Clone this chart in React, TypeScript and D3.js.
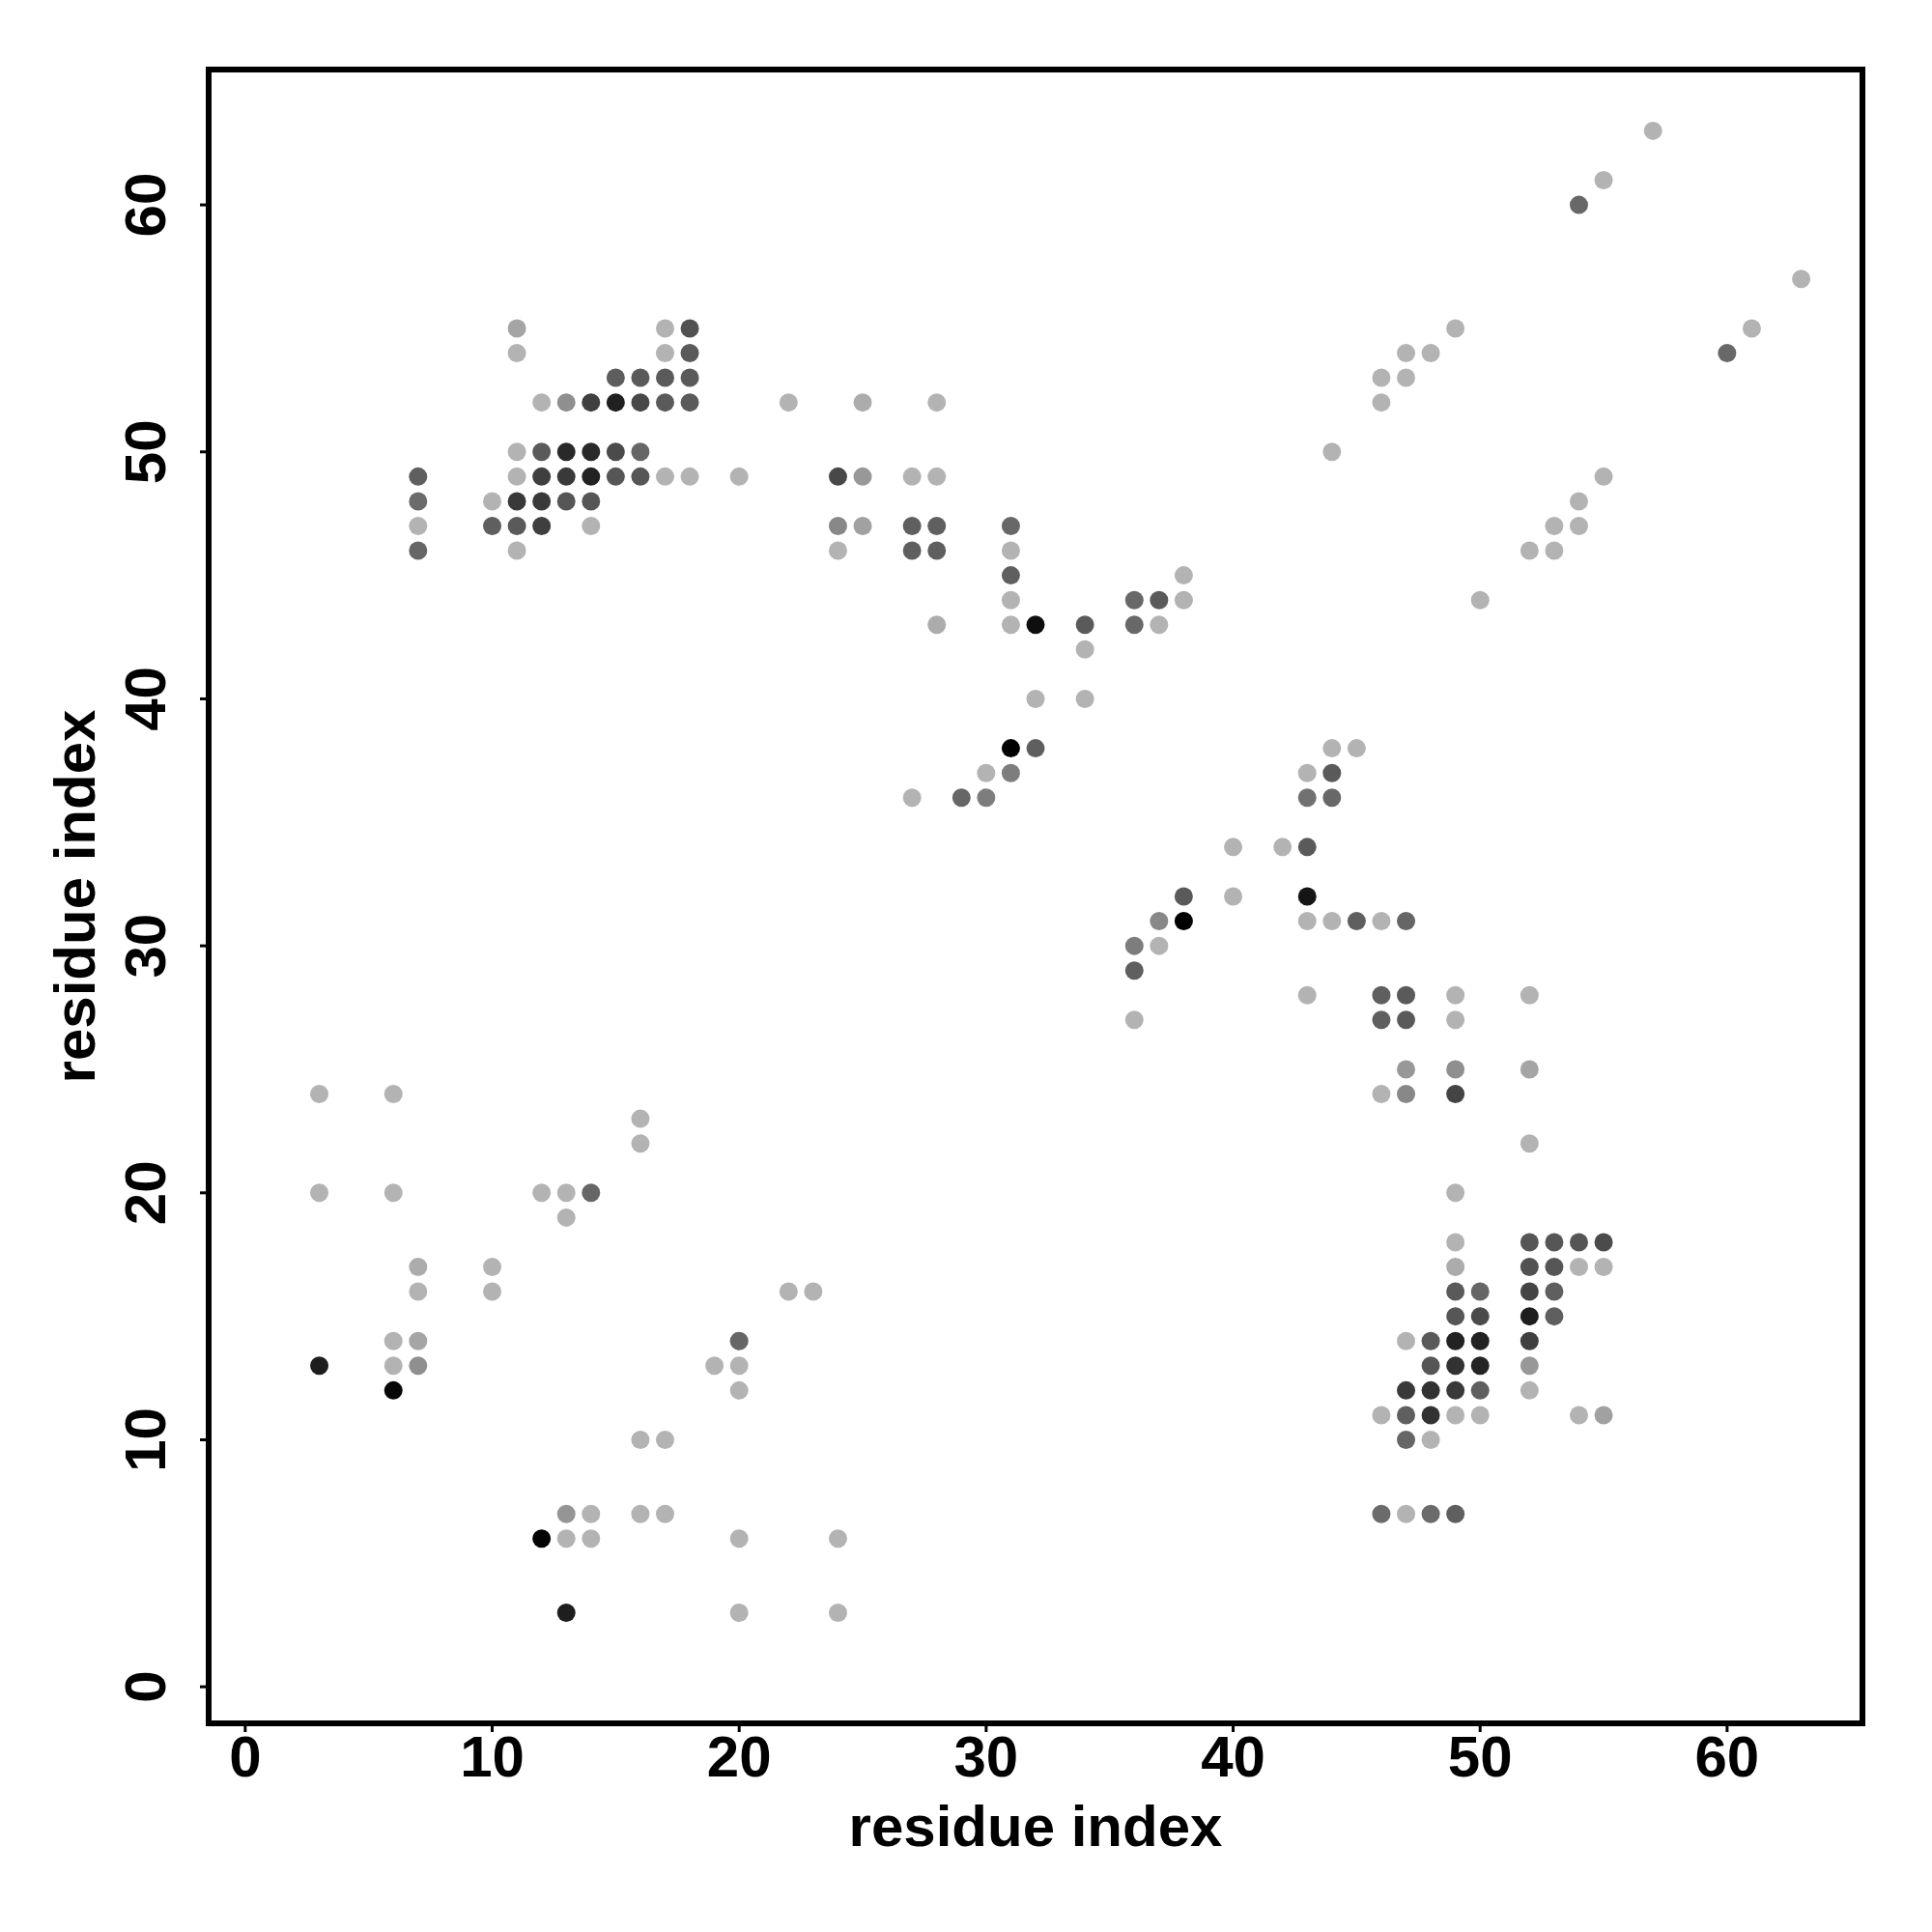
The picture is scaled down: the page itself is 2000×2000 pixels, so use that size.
import React from "react";
import * as d3 from "d3";

// Contact map: residue i (x), residue j (y), contact score (0 = weakest/light grey, 1 = strongest/black)
const residueI: number[] = [
  57, 55, 54, 63,
  11, 17, 18, 49, 61,
  11, 17, 18, 47, 48, 60,
  15, 16, 17, 18, 46, 47,
  12, 13, 14, 15, 16, 17, 18, 22, 25, 28, 46,
  11, 12, 13, 14, 15, 16, 44,
  7, 11, 12, 13, 14, 15, 16, 17, 18, 20, 24, 25, 27, 28, 55,
  7, 10, 11, 12, 13, 14, 54,
  7, 10, 11, 12, 14, 24, 25, 27, 28, 31, 53, 54,
  7, 11, 24, 27, 28, 31, 52, 53,
  31, 38,
  31, 36, 37, 38, 50,
  28, 31, 32, 34, 36, 37,
  34,
  32, 34,
  31, 32, 44, 45,
  30, 31, 43, 44,
  27, 29, 30, 43, 44,
  40, 42, 43,
  38, 40, 43,
  37, 38, 43, 44, 45, 46, 47,
  36, 37,
  36,
  43, 46, 47, 49, 52,
  36, 46, 47, 49,
  47, 49, 52,
  3, 6, 46, 47, 49,
  16,
  16, 52,
  3, 6, 12, 13, 14, 49,
  13,
  49, 52, 53, 54, 55,
  7, 10, 49, 52, 53, 54, 55,
  7, 10, 22, 23, 49, 50, 52, 53,
  49, 50, 52, 53,
  6, 7, 20, 47, 48, 49, 50, 52,
  3, 6, 7, 19, 20, 48, 49, 50, 52,
  6, 20, 47, 48, 49, 50, 52,
  46, 47, 48, 49, 50, 54, 55,
  16, 17, 47, 48,
  13, 14, 16, 17, 46, 47, 48, 49,
  12, 13, 14, 20, 24,
  13, 20, 24,
];

const residueJ: number[] = [
  63, 61, 60, 57,
  55, 55, 55, 55, 55,
  54, 54, 54, 54, 54, 54,
  53, 53, 53, 53, 53, 53,
  52, 52, 52, 52, 52, 52, 52, 52, 52, 52, 52,
  50, 50, 50, 50, 50, 50, 50,
  49, 49, 49, 49, 49, 49, 49, 49, 49, 49, 49, 49, 49, 49, 49,
  48, 48, 48, 48, 48, 48, 48,
  47, 47, 47, 47, 47, 47, 47, 47, 47, 47, 47, 47,
  46, 46, 46, 46, 46, 46, 46, 46,
  45, 45,
  44, 44, 44, 44, 44,
  43, 43, 43, 43, 43, 43,
  42,
  40, 40,
  38, 38, 38, 38,
  37, 37, 37, 37,
  36, 36, 36, 36, 36,
  34, 34, 34,
  32, 32, 32,
  31, 31, 31, 31, 31, 31, 31,
  30, 30,
  29,
  28, 28, 28, 28, 28,
  27, 27, 27, 27,
  25, 25, 25,
  24, 24, 24, 24, 24,
  23,
  22, 22,
  20, 20, 20, 20, 20, 20,
  19,
  18, 18, 18, 18, 18,
  17, 17, 17, 17, 17, 17, 17,
  16, 16, 16, 16, 16, 16, 16, 16,
  15, 15, 15, 15,
  14, 14, 14, 14, 14, 14, 14, 14,
  13, 13, 13, 13, 13, 13, 13, 13, 13,
  12, 12, 12, 12, 12, 12, 12,
  11, 11, 11, 11, 11, 11, 11,
  10, 10, 10, 10,
  7, 7, 7, 7, 7, 7, 7, 7,
  6, 6, 6, 6, 6,
  3, 3, 3,
];

const contactScore: number[] = [
  0, 0, 0.42, 0,
  0.08, 0, 0.55, 0, 0,
  0, 0, 0.5, 0, 0, 0.42,
  0.48, 0.5, 0.5, 0.5, 0, 0,
  0, 0.2, 0.65, 0.82, 0.6, 0.5, 0.5, 0, 0.04, 0, 0,
  0, 0.5, 0.77, 0.77, 0.58, 0.43, 0,
  0.47, 0, 0.65, 0.68, 0.81, 0.52, 0.52, 0, 0, 0, 0.6, 0.15, 0, 0, 0,
  0.4, 0, 0.68, 0.68, 0.52, 0.52, 0,
  0, 0.47, 0.5, 0.65, 0, 0.24, 0.1, 0.47, 0.47, 0.42, 0, 0,
  0.43, 0, 0, 0.47, 0.47, 0, 0, 0,
  0.47, 0,
  0, 0.42, 0.5, 0, 0,
  0.04, 0, 0.92, 0.5, 0.42, 0,
  0,
  0, 0,
  1, 0.47, 0, 0,
  0, 0.3, 0, 0.5,
  0, 0.43, 0.3, 0.37, 0.42,
  0, 0, 0.5,
  0.5, 0, 0.88,
  0.24, 1, 0, 0, 0.47, 0, 0.43,
  0.3, 0,
  0.47,
  0, 0.47, 0.5, 0, 0,
  0, 0.47, 0.5, 0,
  0.15, 0.2, 0.08,
  0, 0, 0, 0.24, 0.62,
  0,
  0, 0,
  0, 0, 0, 0, 0.43, 0,
  0,
  0, 0.52, 0.52, 0.52, 0.58,
  0.04, 0, 0.04, 0.55, 0.52, 0, 0,
  0, 0, 0, 0, 0.5, 0.43, 0.62, 0.47,
  0.52, 0.58, 0.83, 0.47,
  0, 0.08, 0.43, 0, 0.5, 0.81, 0.81, 0.64,
  0.83, 0, 0.2, 0, 0, 0.52, 0.72, 0.8, 0.15,
  0.96, 0, 0.68, 0.72, 0.68, 0.47, 0,
  0, 0.47, 0.72, 0, 0, 0, 0.1,
  0, 0, 0.43, 0,
  0.17, 0, 0, 0, 0.4, 0, 0.4, 0.47,
  0.98, 0, 0, 0, 0,
  0.83, 0, 0,
];

const tickValues: number[] = [0, 10, 20, 30, 40, 50, 60];
const axisDomain: [number, number] = [-1.48, 65.48];
const axisTitle = "residue index";

const FONT = "'Liberation Sans', Arial, Helvetica, sans-serif";

export default function App() {
  const left = 216;
  const right = 1928;
  const top = 72;
  const bottom = 1784;

  const x = d3.scaleLinear().domain(axisDomain).range([left, right]);
  const y = d3.scaleLinear().domain(axisDomain).range([bottom, top]);
  const color = d3
    .scaleLinear<string>()
    .domain([0, 1])
    .range(["#b3b3b3", "#000000"])
    .interpolate(d3.interpolateRgb);

  const points = residueI.map((xi, k) => ({ xi, yj: residueJ[k], s: contactScore[k] }));

  const fs = 60;
  const tickLen = 9;

  return (
    <svg
      width={2000}
      height={2000}
      style={{ position: "absolute", left: 0, top: 0, background: "#fff" }}
    >
      <rect x={0} y={0} width={2000} height={2000} fill="#fff" />
      {points.map((p, k) => (
        <circle key={k} cx={x(p.xi)} cy={y(p.yj)} r={9.5} fill={color(p.s)} />
      ))}
      <rect
        x={left}
        y={top}
        width={right - left}
        height={bottom - top}
        fill="none"
        stroke="#000"
        strokeWidth={6}
      />
      {/* x axis */}
      {tickValues.map((t) => (
        <g key={"xt" + t}>
          <line x1={x(t)} x2={x(t)} y1={bottom} y2={bottom + tickLen} stroke="#000" strokeWidth={3} />
          <text
            x={x(t)}
            y={1839}
            textAnchor="middle"
            fontFamily={FONT}
            fontWeight="bold"
            fontSize={fs}
            fill="#000"
          >
            {t}
          </text>
        </g>
      ))}
      {/* y axis */}
      {tickValues.map((t) => (
        <g key={"yt" + t}>
          <line x1={left - tickLen} x2={left} y1={y(t)} y2={y(t)} stroke="#000" strokeWidth={3} />
          <text
            transform={`translate(171,${y(t)}) rotate(-90)`}
            textAnchor="middle"
            fontFamily={FONT}
            fontWeight="bold"
            fontSize={fs}
            fill="#000"
          >
            {t}
          </text>
        </g>
      ))}
      <text
        x={(left + right) / 2}
        y={1911}
        textAnchor="middle"
        fontFamily={FONT}
        fontWeight="bold"
        fontSize={fs}
        fill="#000"
      >
        {axisTitle}
      </text>
      <text
        transform={`translate(98,${(top + bottom) / 2}) rotate(-90)`}
        textAnchor="middle"
        fontFamily={FONT}
        fontWeight="bold"
        fontSize={fs}
        fill="#000"
      >
        {axisTitle}
      </text>
    </svg>
  );
}
